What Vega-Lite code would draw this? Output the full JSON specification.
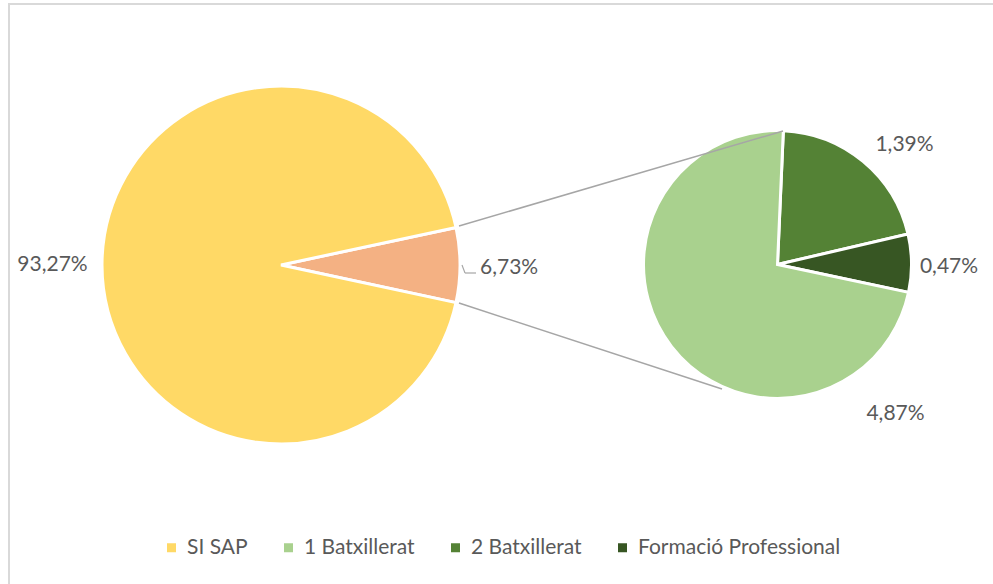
{
  "$schema": "https://vega.github.io/schema/vega-lite/v6.json",
  "width": 990,
  "height": 586,
  "autosize": {"type": "none"},
  "padding": {"left": 9, "top": 4, "right": 0, "bottom": 0},
  "background": "white",
  "config": {
    "view": {"stroke": "#D9D9D9", "strokeWidth": 2},
    "font": "Lato",
    "text": {"font": "Lato", "fontSize": 21, "fill": "#595959"}
  },
  "data": {
    "values": [
      {"pie": "main", "category": "Altres", "value": 6.73, "k": 1},
      {"pie": "main", "category": "SI SAP", "value": 93.27, "k": 2},
      {"pie": "sub", "category": "2 Batxillerat", "value": 1.39, "k": 1},
      {"pie": "sub", "category": "Formació Professional", "value": 0.47, "k": 2},
      {"pie": "sub", "category": "1 Batxillerat", "value": 4.87, "k": 3}
    ]
  },
  "transform": [
    {"calculate": "replace(format(datum.value, '.2f'), '.', ',') + '%'", "as": "label"}
  ],
  "layer": [
    {
      "transform": [{"filter": "datum.pie === 'main'"}],
      "mark": {"type": "arc", "outerRadius": 179, "stroke": "white", "strokeWidth": 3},
      "encoding": {
        "x": {"datum": 27.2, "type": "quantitative", "scale": {"domain": [0, 99], "nice": false, "zero": false}, "axis": null},
        "y": {"datum": 26.1, "type": "quantitative", "scale": {"domain": [0, 58.6], "nice": false, "zero": false, "reverse": true}, "axis": null},
        "theta": {"field": "value", "type": "quantitative", "stack": true, "scale": {"range": [1.3596, 7.6428]}},
        "order": {"field": "k", "type": "quantitative"},
        "color": {
          "field": "category",
          "type": "nominal",
          "scale": {
            "domain": ["SI SAP", "Altres", "1 Batxillerat", "2 Batxillerat", "Formació Professional"],
            "range": ["#FFD966", "#F4B183", "#A9D18E", "#548235", "#375623"]
          },
          "legend": {
            "orient": "none",
            "legendX": 152,
            "legendY": 533,
            "direction": "horizontal",
            "title": null,
            "values": ["SI SAP", "1 Batxillerat", "2 Batxillerat", "Formació Professional"],
            "symbolType": "square",
            "symbolSize": 81,
            "symbolStrokeWidth": 0,
            "labelFont": "Lato",
            "labelFontSize": 21,
            "labelColor": "#595959",
            "labelOffset": 5,
            "columnPadding": 30,
            "padding": 0,
            "labelLimit": 400
          }
        }
      }
    },
    {
      "transform": [{"filter": "datum.pie === 'sub'"}],
      "mark": {"type": "arc", "outerRadius": 134, "stroke": "white", "strokeWidth": 3},
      "encoding": {
        "x": {"datum": 76.85, "type": "quantitative"},
        "y": {"datum": 26.05, "type": "quantitative"},
        "theta": {"field": "value", "type": "quantitative", "stack": true, "scale": {"range": [0.0436, 6.3268]}},
        "order": {"field": "k", "type": "quantitative"},
        "color": {"field": "category", "type": "nominal"}
      }
    },
    {
      "transform": [{"filter": "datum.category === 'Altres'"}],
      "mark": {"type": "rule", "color": "#A6A6A6", "strokeWidth": 1.5},
      "encoding": {
        "x": {"datum": 45.0, "type": "quantitative"},
        "y": {"datum": 22.2, "type": "quantitative"},
        "x2": {"datum": 77.4},
        "y2": {"datum": 12.7}
      }
    },
    {
      "transform": [{"filter": "datum.category === 'Altres'"}],
      "mark": {"type": "rule", "color": "#A6A6A6", "strokeWidth": 1.5},
      "encoding": {
        "x": {"datum": 45.0, "type": "quantitative"},
        "y": {"datum": 29.9, "type": "quantitative"},
        "x2": {"datum": 71.3},
        "y2": {"datum": 38.5}
      }
    },
    {
      "transform": [{"filter": "datum.category === 'Altres'"}],
      "mark": {"type": "rule", "color": "#A6A6A6", "strokeWidth": 1.2},
      "encoding": {
        "x": {"datum": 45.3, "type": "quantitative"},
        "y": {"datum": 26.1, "type": "quantitative"},
        "x2": {"datum": 45.6},
        "y2": {"datum": 26.9}
      }
    },
    {
      "transform": [{"filter": "datum.category === 'Altres'"}],
      "mark": {"type": "rule", "color": "#A6A6A6", "strokeWidth": 1.2},
      "encoding": {
        "x": {"datum": 45.6, "type": "quantitative"},
        "y": {"datum": 26.9, "type": "quantitative"},
        "x2": {"datum": 46.7},
        "y2": {"datum": 26.9}
      }
    },
    {
      "transform": [{"filter": "datum.category === 'SI SAP'"}],
      "mark": {"type": "text", "align": "center", "baseline": "middle"},
      "encoding": {
        "x": {"datum": 4.35, "type": "quantitative"},
        "y": {"datum": 26.1, "type": "quantitative"},
        "text": {"field": "label"}
      }
    },
    {
      "transform": [{"filter": "datum.category === 'Altres'"}],
      "mark": {"type": "text", "align": "left", "baseline": "middle"},
      "encoding": {
        "x": {"datum": 47.1, "type": "quantitative"},
        "y": {"datum": 26.4, "type": "quantitative"},
        "text": {"field": "label"}
      }
    },
    {
      "transform": [{"filter": "datum.category === '2 Batxillerat'"}],
      "mark": {"type": "text", "align": "center", "baseline": "middle"},
      "encoding": {
        "x": {"datum": 89.55, "type": "quantitative"},
        "y": {"datum": 14.1, "type": "quantitative"},
        "text": {"field": "label"}
      }
    },
    {
      "transform": [{"filter": "datum.category === 'Formació Professional'"}],
      "mark": {"type": "text", "align": "center", "baseline": "middle"},
      "encoding": {
        "x": {"datum": 94.0, "type": "quantitative"},
        "y": {"datum": 26.3, "type": "quantitative"},
        "text": {"field": "label"}
      }
    },
    {
      "transform": [{"filter": "datum.category === '1 Batxillerat'"}],
      "mark": {"type": "text", "align": "center", "baseline": "middle"},
      "encoding": {
        "x": {"datum": 88.65, "type": "quantitative"},
        "y": {"datum": 41.0, "type": "quantitative"},
        "text": {"field": "label"}
      }
    }
  ],
  "resolve": {"scale": {"theta": "independent"}}
}
